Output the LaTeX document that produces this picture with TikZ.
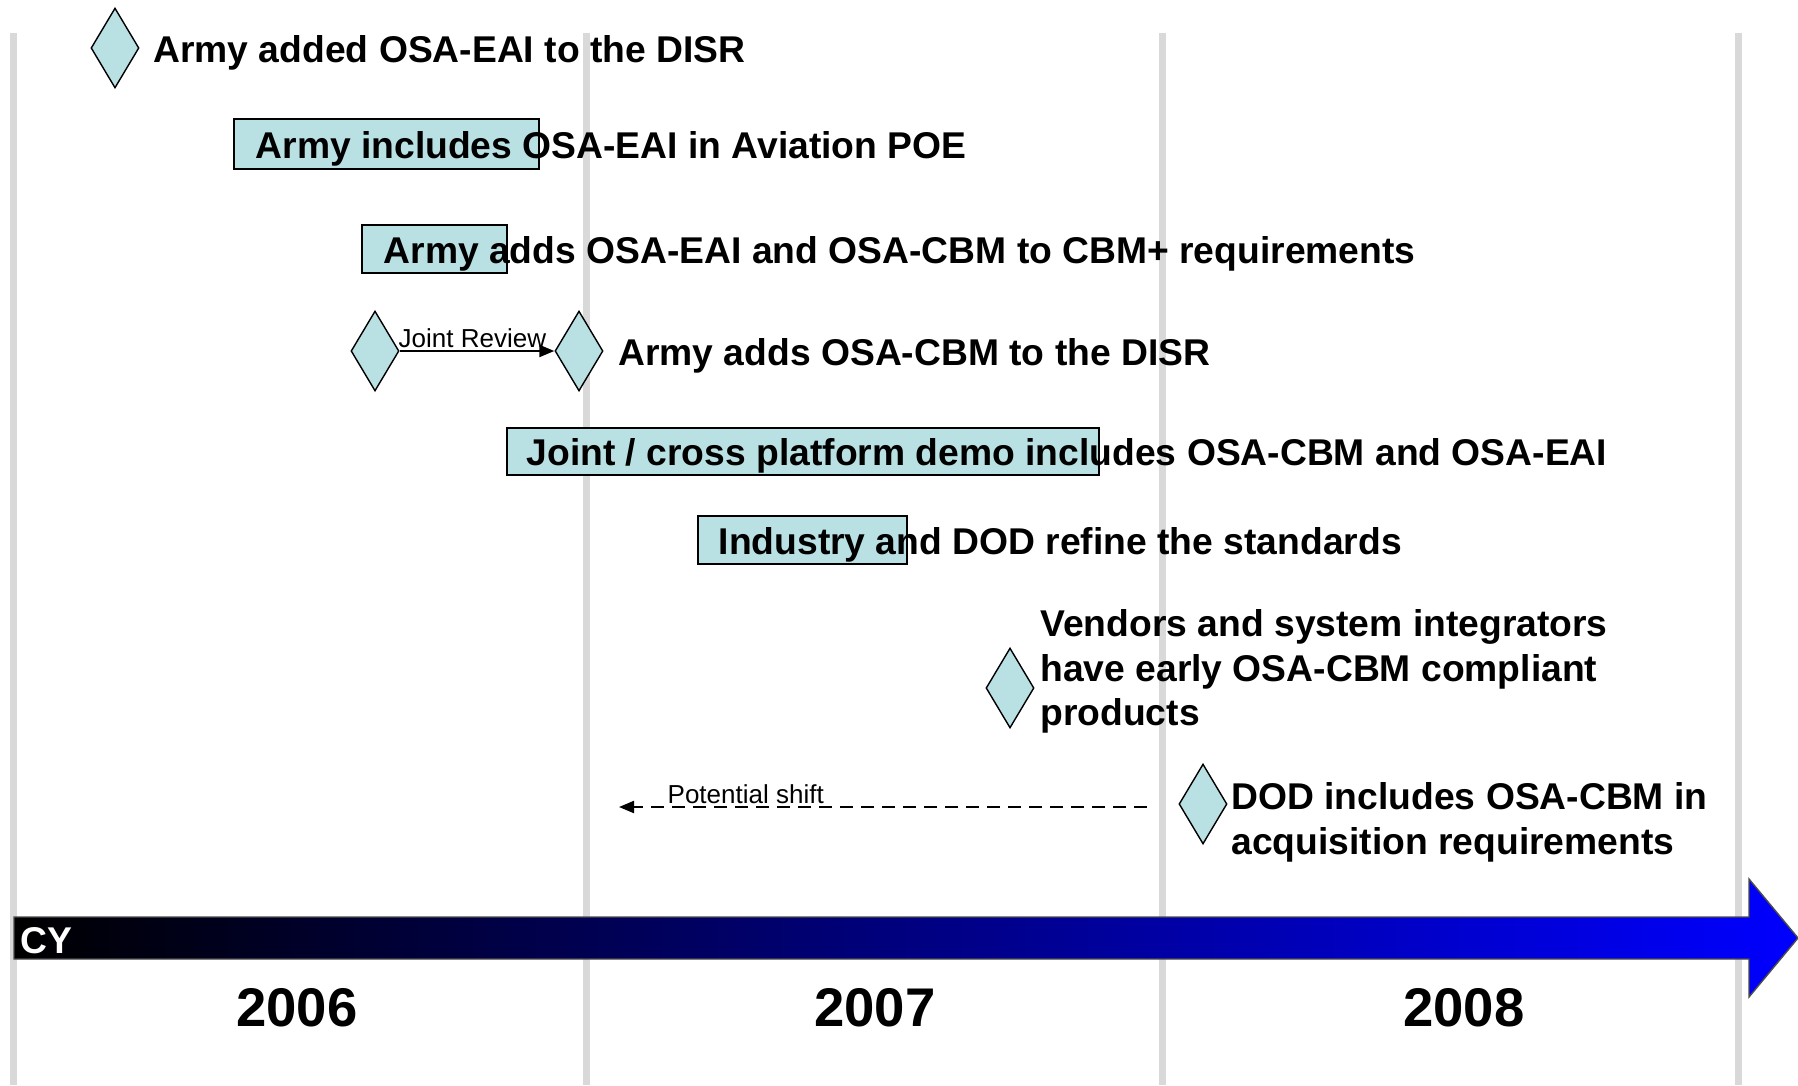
\documentclass[tikz,border=0pt]{standalone}
\usepackage{fontspec}
\setmainfont{Liberation Sans}
\usepackage{xcolor}
\usepackage{tikz}
\usetikzlibrary{positioning}
\usetikzlibrary{shapes.geometric}
\usetikzlibrary{arrows.meta}
\definecolor{taskfill}{RGB}{185,224,227}
\definecolor{gridgray}{RGB}{217,217,217}
\tikzset{milestone/.style={diamond,draw,fill=taskfill,inner sep=0pt,
        minimum width=0.48cm,minimum height=0.80cm},
    taskbar/.style={draw,fill=taskfill,inner sep=0pt,line width=0.6pt},
    event/.style={inner sep=0pt,align=left,yshift=-0.045cm,
        font=\bfseries\fontsize{10.6}{12.7}\selectfont},
    note/.style={inner sep=0.5pt,font=\fontsize{7.4}{8}\selectfont},
    year/.style={font=\bfseries\fontsize{15.5}{18}\selectfont},
    grid line/.style={line width=0.07cm,draw=gridgray},
    link/.style={line width=0.6pt,-{Triangle[length=0.15cm,width=0.12cm]}}}

\begin{document}
\begin{tikzpicture}[x=1cm,y=-1cm]
\useasboundingbox (0,0) rectangle (17.98,10.85);
\foreach \x in {0.13,5.86,11.62,17.38}
    \draw[grid line] (\x,0.33) -- (\x,10.85);

% milestones and tasks
\node[milestone] (eaidisr) at (1.15,0.48) {};
\node[event,right=0.13cm of eaidisr] (eaidisrtxt) {Army added OSA-EAI to the DISR};

\node[taskbar,minimum width=3.05cm,minimum height=0.50cm] (poe) at (3.865,1.44) {};
\node[event,right=0.22cm of poe.west] (poetxt) {Army includes OSA-EAI in Aviation POE};

\node[taskbar,minimum width=1.45cm,minimum height=0.48cm] (cbmreq) at (4.345,2.49) {};
\node[event,right=0.22cm of cbmreq.west] (cbmreqtxt) {Army adds OSA-EAI and OSA-CBM to CBM+ requirements};

\node[milestone] (review) at (3.75,3.51) {};
\node[milestone] (cbmdisr) at (5.79,3.51) {};
\draw[link] (review.east) -- node[note,above,pos=0.47] {Joint Review} (cbmdisr.west);
\node[event,right=0.14cm of cbmdisr] (cbmdisrtxt) {Army adds OSA-CBM to the DISR};

\node[taskbar,minimum width=5.92cm,minimum height=0.47cm] (demo) at (8.03,4.515) {};
\node[event,right=0.2cm of demo.west] (demotxt) {Joint / cross platform demo includes OSA-CBM and OSA-EAI};

\node[taskbar,minimum width=2.09cm,minimum height=0.48cm] (refine) at (8.025,5.40) {};
\node[event,right=0.21cm of refine.west] (refinetxt) {Industry and DOD refine the standards};

\node[milestone] (vendors) at (10.10,6.88) {};
\node[event,right=0.05cm of vendors,yshift=0.21cm] (vendorstxt)
    {Vendors and system integrators\\have early OSA-CBM compliant\\products};

\node[milestone] (acq) at (12.03,8.04) {};
\node[event,right=0.03cm of acq,yshift=-0.14cm] (acqtxt)
    {DOD includes OSA-CBM in\\acquisition requirements};

\coordinate (shiftstart) at (11.47,8.07);
\coordinate (shiftend) at (6.19,8.07);
\draw[link,dash pattern=on 0.13cm off 0.08cm] (shiftstart) -- node[note,above,pos=0.76] {Potential shift} (shiftend);

% time axis
\shadedraw[left color=black,right color=blue,draw=gray!60!black,line width=0.4pt]
    (0.14,9.17) -- (17.49,9.17) -- (17.49,8.79) -- (17.98,9.38)
    -- (17.49,9.97) -- (17.49,9.59) -- (0.14,9.59) -- cycle;
\node[event,anchor=west,text=white] (cy) at (0.195,9.36) {CY};
\node[year] (y2006) at (2.97,10.08) {2006};
\node[year] (y2007) at (8.75,10.08) {2007};
\node[year] (y2008) at (14.64,10.08) {2008};
\end{tikzpicture}
\end{document}
